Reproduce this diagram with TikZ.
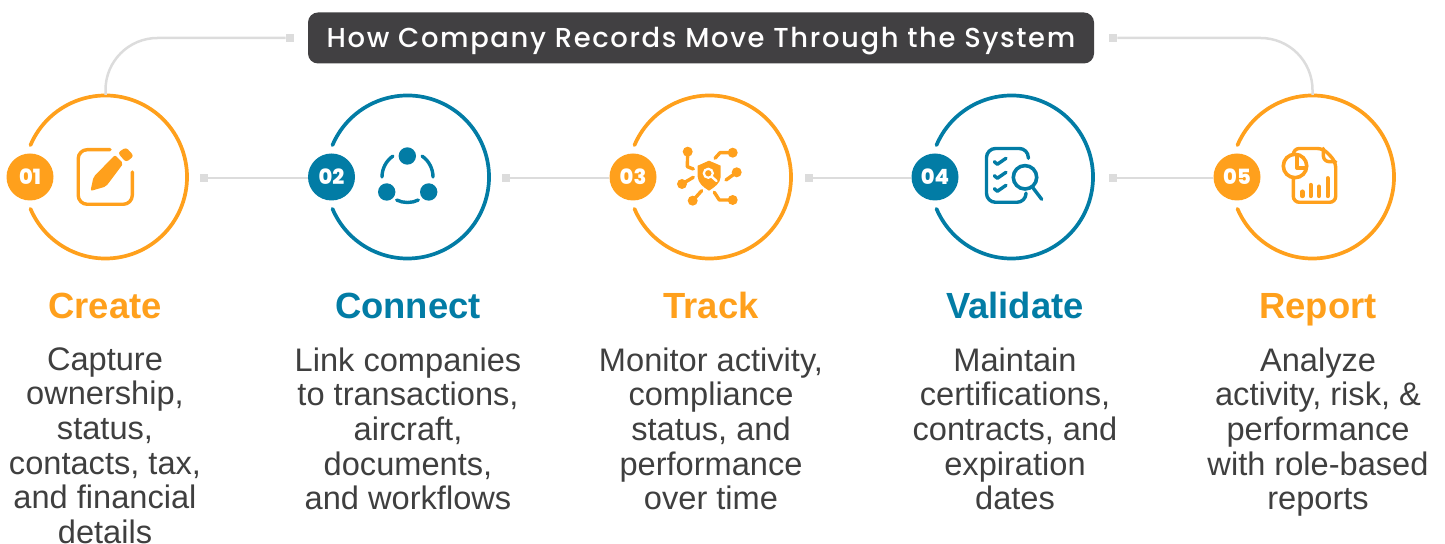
\documentclass[tikz,border=0pt]{standalone}
\usepackage{fontspec}
\setmainfont{Liberation Sans}
\newfontfamily\titlefont[LetterSpace=6]{Poppins Medium}
\newfontfamily\numfont{Poppins ExtraBold}
\usetikzlibrary{arrows.meta,calc}

\definecolor{recorange}{HTML}{FFA01C}
\definecolor{recblue}{HTML}{027CA5}
\definecolor{recgrey}{HTML}{DCDCDC}
\definecolor{recdark}{HTML}{414042}
\definecolor{rectext}{HTML}{3F3F3F}

\tikzset{
  ringline/.style={line width=1.85pt,line cap=round},
  iconline/.style={line width=1.7pt,line cap=round,line join=round},
  link/.style={recgrey,line width=1.25pt},
  stub/.style={fill=recgrey,inner sep=0pt,minimum size=4pt},
  badge/.style={circle,inner sep=0pt,minimum size=23.5pt,text=white,text height=8pt,text depth=0pt,font=\numfont\fontsize{10.5}{11}\selectfont},
  heading/.style={anchor=base,font=\fontsize{18.2}{20}\selectfont\bfseries},
  blurb/.style={anchor=north,align=center,text=rectext,font=\fontsize{16.3}{17.35}\selectfont,inner sep=0pt}
}

\begin{document}
\begin{tikzpicture}[x=0.5pt,y=0.5pt]
  \useasboundingbox (0,0) rectangle (1445,544);
  % Title bar
  \node[fill=recdark,rounded corners=5pt,minimum width=393pt,minimum height=25.5pt,inner sep=0pt,
    text=white,text height=10pt,text depth=0pt,font=\titlefont\fontsize{13.7}{14}\selectfont] (title) at (701,506)
    {How Company Records Move Through the System};
  % Rings, badges and headings
  \foreach \n/\cx/\bx/\col/\num/\name/\tx in {
    1/105.5/30/recorange/01/Create/105,
    2/407.5/331.5/recblue/02/Connect/408,
    3/709.5/633/recorange/03/Track/711,
    4/1011.5/935/recblue/04/Validate/1015,
    5/1312.5/1237/recorange/05/Report/1318} {
    \coordinate (c\n) at (\cx,367);
    \draw[ringline,\col] (c\n) ++(157:81.5) arc (157:-157:81.5);
    \node[badge,fill=\col] (b\n) at (\bx,367) {\num};
    \node[heading,text=\col] (h\n) at (\tx,225) {\name};
  }
  % Stubs between the rings
  \node[stub] (s0) at (290,506) {};
  \node[stub] (s1) at (203.5,366) {};
  \node[stub] (s2) at (505.5,366) {};
  \node[stub] (s3) at (809,366) {};
  \node[stub] (s4) at (1113,366) {};
  \node[stub] (s5) at (1113,506) {};
  \coordinate (t1) at (105.5,449);
  \coordinate (t5) at (1312.5,449);
  % Connectors
  \foreach \a/\b in {1/2,2/3,3/4,4/5} \draw[link] (s\a) -- (s\a -| b\b.west);
  \draw[link,rounded corners=26pt] (t1) |- (s0);
  \draw[link,rounded corners=26pt] (t5) |- (s5);
  % Text under the rings
  \node[blurb] (d1) at (105,197) {Capture\\ownership,\\status,\\contacts, tax,\\and financial\\details};
  \node[blurb] (d2) at (408,197) {Link companies\\to transactions,\\aircraft,\\documents,\\and workflows};
  \node[blurb] (d3) at (711,197) {Monitor activity,\\compliance\\status, and\\performance\\over time};
  \node[blurb] (d4) at (1015,197) {Maintain\\certifications,\\contracts, and\\expiration\\dates};
  \node[blurb] (d5) at (1318,197) {Analyze\\activity, risk, \&\\performance\\with role-based\\reports};
  % Icon 1: note and pencil
  \begin{scope}[shift={(c1)},recorange]
    \draw[iconline,rounded corners=4.5pt] (4.5,27.3) -- (-27.3,27.3) -- (-27.3,-27.3) -- (26.8,-27.3) -- (26.8,5);
    \fill[rounded corners=1pt] (-12,0) -- (9.5,22) -- (17.8,13.5) -- (0.5,-9.5) -- (-15,-14) -- cycle;
    \fill[rounded corners=1.5pt] (12.2,24.2) -- (20.5,14.7) -- (28.5,21) -- (20.5,29.7) -- cycle;
  \end{scope}
  % Icon 2: three linked dots
  \begin{scope}[shift={(c2)},recblue]
    \fill (-0.2,21) circle (8.7) (-20.8,-15) circle (8.7) (21.2,-15) circle (8.7);
    \draw[iconline] (245:25.5) arc (245:295:25.5);
    \draw[iconline] (180:25.5) arc (180:125:25.5);
    \draw[iconline] (55:25.5) arc (55:0:25.5);
  \end{scope}
  % Icon 3: shield and branches
  \begin{scope}[shift={(c3)},recorange]
    \fill (-0.5,16.3) -- (-11.8,11.3) -- (-11.8,0.3) .. controls (-11.5,-6) and (-6.5,-10) .. (-0.5,-13.7)
      .. controls (5.5,-10) and (10.9,-6) .. (11.2,0.3) -- (11.2,11.3) -- cycle;
    \draw[white,line width=1.1pt] (-1.2,3.7) circle (4.5);
    \draw[white,line width=1.2pt,line cap=round] (2.3,0.2) -- (7,-4);
    \draw[iconline] (-21.8,25.3) -- (-22.2,10.3) -- (-16.2,8);
    \draw[iconline] (23.2,24.3) -- (10.5,24.3) -- (5.5,18.7);
    \draw[iconline] (27.2,4.7) -- (16.5,-3);
    \draw[iconline] (-27.5,-7) -- (-16.2,-0.3);
    \draw[iconline] (-16.8,-23.7) -- (-7.8,-13.7);
    \draw[iconline] (23.2,-23) -- (9.8,-23) -- (4.8,-15.3);
    \fill (-21.8,25.3) circle (5) (23.2,24.3) circle (5) (27.2,4.7) circle (5)
      (-27.5,-7) circle (5) (-16.8,-23.7) circle (5) (23.2,-23) circle (5);
  \end{scope}
  % Icon 4: checklist and lens
  \begin{scope}[shift={(c4)},recblue]
    \draw[iconline,rounded corners=4.5pt] (16.8,18.7) -- (16.8,28.5) -- (-25,28.5) -- (-25,-25.3) -- (14.5,-25.3) -- (14.5,-16);
    \foreach \d in {0,-14,-27}
      \draw[iconline] (-17.2,15.3+\d) -- (-14.2,12.7+\d) -- (-5.5,18.7+\d);
    \draw[line width=1.8pt,fill=white] (13.5,-0.3) circle (11.7);
    \draw[iconline] (21.8,-11.3) -- (30.2,-22.3);
  \end{scope}
  % Icon 5: report sheet and pie
  \begin{scope}[shift={(c5)},recorange]
    \draw[iconline,rounded corners=3pt] (-19.2,20) -- (-19.2,28.5) -- (10.8,28.5) -- (23.2,15.3) -- (23.2,-25.3) -- (-19.2,-25.3) -- (-19.2,0);
    \draw[iconline,rounded corners=3pt] (10.8,28.5) -- (10.8,15.3) -- (23.2,15.3);
    \draw[line width=1.8pt,fill=white] (-17.5,11) circle (11.7);
    \draw[iconline] (-15.5,21) -- (-15.5,9) -- (-6.5,9);
    \foreach \px/\py in {-10.2/-14.7,-1.8/-8,6.5/-9.7,15.2/-1.3}
      \draw[line width=2.2pt,line cap=round] (\px,-19) -- (\px,\py);
  \end{scope}
\end{tikzpicture}
\end{document}
